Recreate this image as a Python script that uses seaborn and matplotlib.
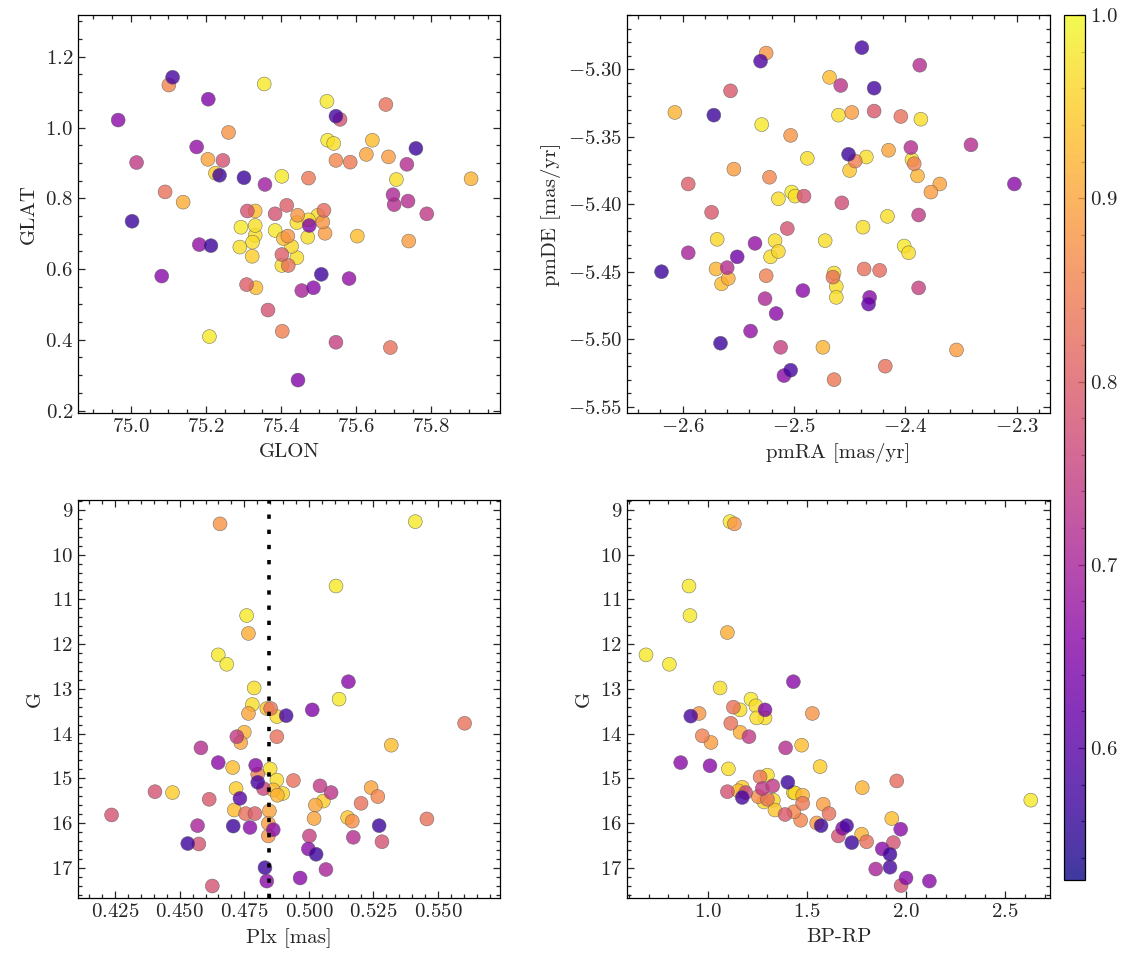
import numpy as np
import pandas as pd
import seaborn as sns
import matplotlib.pyplot as plt
from matplotlib.colors import Normalize
from matplotlib.cm import ScalarMappable
from matplotlib.ticker import MultipleLocator, AutoMinorLocator

# membership probability limits of the colour scale
PMIN, PMAX = 0.528, 1.0
PLX_MEAN = 0.4846

# --- sky positions ---
glon = [74.966, 75.015, 75.003, 75.082, 75.091, 75.101, 75.111, 75.139, 75.175, 75.182,
        75.206, 75.205, 75.245, 75.260, 75.225, 75.236, 75.213, 75.209, 75.301, 75.357,
        75.355, 75.402, 75.310, 75.331, 75.293, 75.331, 75.331, 75.324, 75.290, 75.323,
        75.308, 75.333, 75.365, 75.384, 75.384, 75.403, 75.415, 75.444, 75.442, 75.473,
        75.475, 75.514, 75.511, 75.517, 75.498, 75.471, 75.418, 75.406, 75.428, 75.402,
        75.442, 75.402, 75.419, 75.507, 75.581, 75.486, 75.455, 75.603, 75.522, 75.546,
        75.557, 75.679, 75.524, 75.540, 75.643, 75.627, 75.546, 75.584, 75.686, 75.759,
        75.735, 75.707, 75.906, 75.473, 75.698, 75.701, 75.738, 75.788, 75.740, 75.546,
        75.691, 75.445]
glat = [1.021, 0.901, 0.735, 0.580, 0.818, 1.120, 1.142, 0.789, 0.945, 0.669,
        1.080, 0.910, 0.907, 0.986, 0.871, 0.865, 0.666, 0.409, 0.858, 0.839,
        1.123, 0.862, 0.764, 0.764, 0.718, 0.723, 0.695, 0.676, 0.662, 0.636,
        0.556, 0.547, 0.484, 0.756, 0.709, 0.424, 0.780, 0.752, 0.731, 0.739,
        0.723, 0.766, 0.733, 0.701, 0.752, 0.690, 0.693, 0.686, 0.664, 0.641,
        0.632, 0.610, 0.610, 0.585, 0.573, 0.547, 0.539, 0.693, 1.074, 1.032,
        1.023, 1.065, 0.964, 0.955, 0.964, 0.924, 0.907, 0.902, 0.917, 0.941,
        0.896, 0.853, 0.855, 0.857, 0.810, 0.782, 0.792, 0.756, 0.679, 0.393,
        0.378, 0.286]
prob_sky = [0.66, 0.74, 0.57, 0.66, 0.83, 0.86, 0.58, 0.91, 0.67, 0.67,
            0.65, 0.90, 0.78, 0.88, 0.95, 0.57, 0.57, 0.98, 0.57, 0.69,
            0.98, 0.98, 0.78, 0.93, 0.98, 0.97, 0.97, 0.97, 0.97, 0.95,
            0.80, 0.93, 0.78, 0.78, 0.98, 0.85, 0.80, 0.88, 0.97, 0.97,
            0.65, 0.82, 0.88, 0.89, 0.97, 0.97, 0.88, 0.93, 0.96, 0.80,
            0.97, 0.97, 0.83, 0.57, 0.67, 0.66, 0.70, 0.93, 0.98, 0.58,
            0.78, 0.83, 0.98, 0.97, 0.93, 0.90, 0.86, 0.84, 0.89, 0.57,
            0.72, 0.97, 0.92, 0.84, 0.71, 0.72, 0.72, 0.74, 0.89, 0.75,
            0.83, 0.65]

# --- proper motions ---
pmra = [-2.525, -2.530, -2.557, -2.607, -2.572, -2.529, -2.503, -2.554, -2.595, -2.522,
        -2.514, -2.502, -2.499, -2.574, -2.506, -2.569, -2.595, -2.535, -2.551, -2.517,
        -2.521, -2.514, -2.619, -2.570, -2.560, -2.565, -2.559, -2.525, -2.526, -2.516,
        -2.539, -2.566, -2.512, -2.509, -2.503, -2.439, -2.387, -2.468, -2.458, -2.428,
        -2.460, -2.448, -2.428, -2.404, -2.386, -2.488, -2.451, -2.445, -2.435, -2.450,
        -2.415, -2.395, -2.394, -2.392, -2.389, -2.369, -2.377, -2.341, -2.302, -2.491,
        -2.457, -2.416, -2.388, -2.438, -2.472, -2.401, -2.397, -2.464, -2.465, -2.462,
        -2.462, -2.437, -2.423, -2.388, -2.492, -2.432, -2.433, -2.474, -2.354, -2.418,
        -2.464]
pmde = [-5.288, -5.294, -5.316, -5.332, -5.334, -5.341, -5.349, -5.374, -5.385, -5.380,
        -5.396, -5.391, -5.394, -5.406, -5.418, -5.426, -5.436, -5.429, -5.439, -5.427,
        -5.439, -5.435, -5.450, -5.448, -5.447, -5.459, -5.455, -5.453, -5.470, -5.481,
        -5.494, -5.503, -5.506, -5.527, -5.523, -5.284, -5.297, -5.306, -5.312, -5.314,
        -5.334, -5.332, -5.331, -5.335, -5.337, -5.366, -5.363, -5.368, -5.365, -5.375,
        -5.360, -5.358, -5.367, -5.370, -5.379, -5.385, -5.391, -5.356, -5.385, -5.394,
        -5.399, -5.409, -5.408, -5.417, -5.427, -5.431, -5.436, -5.451, -5.454, -5.461,
        -5.469, -5.448, -5.449, -5.462, -5.464, -5.469, -5.474, -5.506, -5.508, -5.520,
        -5.530]
prob_pm = [0.88, 0.59, 0.79, 0.92, 0.57, 0.98, 0.88, 0.89, 0.80, 0.86,
           0.97, 0.98, 0.97, 0.79, 0.78, 0.96, 0.70, 0.67, 0.63, 0.97,
           0.97, 0.96, 0.57, 0.92, 0.72, 0.93, 0.91, 0.85, 0.71, 0.66,
           0.67, 0.57, 0.75, 0.66, 0.58, 0.58, 0.72, 0.93, 0.73, 0.58,
           0.97, 0.89, 0.79, 0.83, 0.97, 0.97, 0.57, 0.85, 0.97, 0.94,
           0.90, 0.72, 0.97, 0.85, 0.92, 0.90, 0.89, 0.72, 0.66, 0.78,
           0.77, 0.97, 0.74, 0.97, 0.97, 0.98, 0.97, 0.97, 0.83, 0.97,
           0.97, 0.83, 0.82, 0.75, 0.66, 0.66, 0.62, 0.92, 0.89, 0.83,
           0.84]

# --- parallax vs G ---
plx = [0.4656, 0.4759, 0.4766, 0.4649, 0.4682, 0.4788, 0.4781, 0.4766, 0.4852, 0.4837,
       0.4876, 0.4912, 0.4750, 0.4721, 0.4736, 0.4876, 0.4582, 0.4649, 0.4705, 0.4794,
       0.4850, 0.4802, 0.4802, 0.4876, 0.4940, 0.4404, 0.4472, 0.4614, 0.4718, 0.4733,
       0.4824, 0.4862, 0.4878, 0.4899, 0.4236, 0.4711, 0.4755, 0.4791, 0.4847, 0.4569,
       0.4707, 0.4772, 0.4843, 0.4843, 0.4862, 0.4531, 0.4574, 0.4830, 0.4837, 0.4626,
       0.5412, 0.5105, 0.5153, 0.5117, 0.5013, 0.5603, 0.5319, 0.5043, 0.5086, 0.5056,
       0.5025, 0.5020, 0.5241, 0.5267, 0.5202, 0.5150, 0.5168, 0.5457, 0.5272, 0.5002,
       0.5172, 0.5283, 0.4998, 0.5028, 0.5066, 0.4966]
g_plx = [9.31, 11.36, 11.76, 12.24, 12.45, 12.98, 13.35, 13.55, 13.44, 13.44,
         13.62, 13.60, 13.97, 14.07, 14.20, 14.07, 14.32, 14.65, 14.76, 14.71,
         14.79, 14.91, 15.09, 15.04, 15.05, 15.30, 15.32, 15.47, 15.23, 15.45,
         15.23, 15.26, 15.38, 15.34, 15.82, 15.71, 15.79, 15.79, 15.73, 16.06,
         16.07, 16.10, 16.01, 16.29, 16.15, 16.46, 16.47, 17.00, 17.30, 17.41,
         9.26, 10.70, 12.84, 13.23, 13.47, 13.77, 14.26, 15.17, 15.32, 15.51,
         15.60, 15.90, 15.21, 15.41, 15.56, 15.88, 15.96, 15.91, 16.06, 16.29,
         16.32, 16.42, 16.58, 16.70, 17.04, 17.23]
prob_plx = [0.88, 0.98, 0.91, 0.98, 0.98, 0.97, 0.97, 0.90, 0.83, 0.94,
            0.97, 0.58, 0.92, 0.74, 0.90, 0.83, 0.72, 0.66, 0.93, 0.66,
            0.97, 0.85, 0.58, 0.97, 0.83, 0.78, 0.95, 0.79, 0.95, 0.60,
            0.76, 0.93, 0.92, 0.96, 0.78, 0.93, 0.83, 0.80, 0.90, 0.70,
            0.57, 0.66, 0.89, 0.88, 0.66, 0.57, 0.78, 0.57, 0.66, 0.78,
            0.98, 0.98, 0.66, 0.98, 0.65, 0.83, 0.93, 0.74, 0.73, 0.95,
            0.90, 0.90, 0.90, 0.86, 0.83, 0.94, 0.87, 0.83, 0.57, 0.75,
            0.72, 0.78, 0.66, 0.57, 0.70, 0.66]

# --- colour-magnitude diagram ---
bprp = [1.111, 1.133, 0.904, 0.909, 1.098, 0.687, 0.805, 1.061, 1.431, 0.913,
        0.955, 1.128, 1.162, 1.217, 1.242, 1.288, 1.246, 1.288, 1.115, 0.971,
        1.015, 1.162, 1.207, 1.392, 0.862, 1.010, 1.103, 1.403, 1.300, 1.263,
        1.173, 1.153, 1.190, 1.098, 1.173, 1.274, 1.327, 1.254, 1.300, 1.283,
        1.330, 1.338, 1.389, 1.431, 1.439, 1.478, 1.478, 1.434, 1.468, 1.527,
        1.473, 1.566, 1.582, 1.611, 1.549, 1.571, 1.658, 1.700, 1.680, 1.726,
        1.776, 1.801, 1.779, 1.953, 1.928, 1.973, 1.936, 1.880, 1.919, 1.919,
        1.847, 2.000, 1.975, 2.118, 2.630]
g_cmd = [9.26, 9.31, 10.70, 11.36, 11.74, 12.24, 12.45, 12.98, 12.84, 13.61,
         13.55, 13.41, 13.47, 13.23, 13.38, 13.47, 13.65, 13.65, 13.77, 14.05,
         14.20, 13.97, 14.07, 14.32, 14.65, 14.72, 14.79, 15.09, 14.93, 14.97,
         15.20, 15.28, 15.32, 15.30, 15.43, 15.23, 15.17, 15.41, 15.47, 15.53,
         15.49, 15.71, 15.81, 15.32, 15.33, 15.38, 15.56, 15.75, 15.94, 13.55,
         14.26, 14.74, 15.58, 15.79, 16.00, 16.06, 16.29, 16.06, 16.12, 16.44,
         16.25, 16.42, 15.21, 15.06, 15.90, 16.14, 16.44, 16.58, 16.70, 16.99,
         17.03, 17.23, 17.40, 17.30, 15.49]
prob_cmd = [0.98, 0.88, 0.98, 0.98, 0.91, 0.98, 0.98, 0.97, 0.66, 0.58,
            0.88, 0.83, 0.97, 0.98, 0.97, 0.65, 0.97, 0.97, 0.83, 0.85,
            0.89, 0.91, 0.74, 0.72, 0.66, 0.66, 0.97, 0.57, 0.97, 0.84,
            0.95, 0.93, 0.76, 0.78, 0.58, 0.74, 0.74, 0.87, 0.83, 0.96,
            0.96, 0.94, 0.79, 0.97, 0.96, 0.92, 0.84, 0.86, 0.86, 0.88,
            0.93, 0.95, 0.89, 0.83, 0.89, 0.57, 0.78, 0.58, 0.66, 0.57,
            0.92, 0.83, 0.92, 0.82, 0.93, 0.66, 0.78, 0.66, 0.57, 0.58,
            0.70, 0.66, 0.78, 0.66, 0.98]

sns.set_style("ticks")
plt.rcParams.update({
    "font.family": ["cmr10", "DejaVu Serif"],
    "mathtext.fontset": "cm",
    "axes.formatter.use_mathtext": True,
    "font.size": 15,
    "axes.labelsize": 15,
    "xtick.labelsize": 15,
    "ytick.labelsize": 15,
    "axes.linewidth": 0.9,
    "axes.edgecolor": "black",
})

norm = Normalize(PMIN, PMAX)
fig = plt.figure(figsize=(11.33, 9.65), dpi=100)
W, H = 1133, 965


def box(x0, y0, x1, y1):
    return [x0 / W, (H - y1) / H, (x1 - x0) / W, (y1 - y0) / H]


ax_sky = fig.add_axes(box(78, 15, 500, 413))
ax_pm = fig.add_axes(box(627, 15, 1050, 413))
ax_plx = fig.add_axes(box(78, 500, 500, 898))
ax_cmd = fig.add_axes(box(627, 500, 1050, 898))
cax = fig.add_axes(box(1064, 15, 1085, 880))

panels = [
    (ax_sky, glon, glat, prob_sky, "GLON", "GLAT"),
    (ax_pm, pmra, pmde, prob_pm, "pmRA [mas/yr]", "pmDE [mas/yr]"),
    (ax_plx, plx, g_plx, prob_plx, "Plx [mas]", "G"),
    (ax_cmd, bprp, g_cmd, prob_cmd, "BP-RP", "G"),
]
for ax, xs, ys, ps, xl, yl in panels:
    df = pd.DataFrame({"x": xs, "y": ys, "p": ps}).sort_values("p", ascending=False)
    sns.scatterplot(data=df, x="x", y="y", hue="p", palette="plasma", hue_norm=norm,
                    s=100, alpha=0.8, edgecolor="0.35", linewidth=0.4,
                    legend=False, ax=ax)
    ax.set_xlabel(xl)
    ax.set_ylabel(yl)

ax_plx.axvline(PLX_MEAN, color="black", lw=2.6, ls=(0, (1.2, 3.0)))

ax_sky.set_xlim(74.859, 75.983)
ax_sky.set_ylim(0.193, 1.318)
ax_sky.xaxis.set_major_locator(MultipleLocator(0.2))
ax_sky.yaxis.set_major_locator(MultipleLocator(0.2))

ax_pm.set_xlim(-2.650, -2.270)
ax_pm.set_ylim(-5.5547, -5.2598)
ax_pm.xaxis.set_major_locator(MultipleLocator(0.1))
ax_pm.yaxis.set_major_locator(MultipleLocator(0.05))

ax_plx.set_xlim(0.4106, 0.574)
ax_plx.set_ylim(17.678, 8.776)
ax_plx.xaxis.set_major_locator(MultipleLocator(0.025))
ax_plx.yaxis.set_major_locator(MultipleLocator(1))

ax_cmd.set_xlim(0.591, 2.727)
ax_cmd.set_ylim(17.678, 8.776)
ax_cmd.xaxis.set_major_locator(MultipleLocator(0.5))
ax_cmd.yaxis.set_major_locator(MultipleLocator(1))

for ax in [ax_sky, ax_pm, ax_plx, ax_cmd]:
    ax.xaxis.set_minor_locator(AutoMinorLocator())
    ax.yaxis.set_minor_locator(AutoMinorLocator())
    ax.tick_params(which="both", direction="in", top=True, right=True, width=0.9)
    ax.tick_params(which="major", length=5)
    ax.tick_params(which="minor", length=2.8)
    ax.xaxis.labelpad = 5
    ax.yaxis.labelpad = 5

sm = ScalarMappable(norm=norm, cmap="plasma")
cb = fig.colorbar(sm, cax=cax, alpha=0.8)
cb.outline.set_linewidth(0.9)
cax.yaxis.set_major_locator(MultipleLocator(0.1))
cax.yaxis.set_minor_locator(AutoMinorLocator())
cax.tick_params(which="both", direction="in", width=0.9)
cax.tick_params(which="major", length=5)
cax.tick_params(which="minor", length=2.8)

fig.savefig("out.png", dpi=100)
